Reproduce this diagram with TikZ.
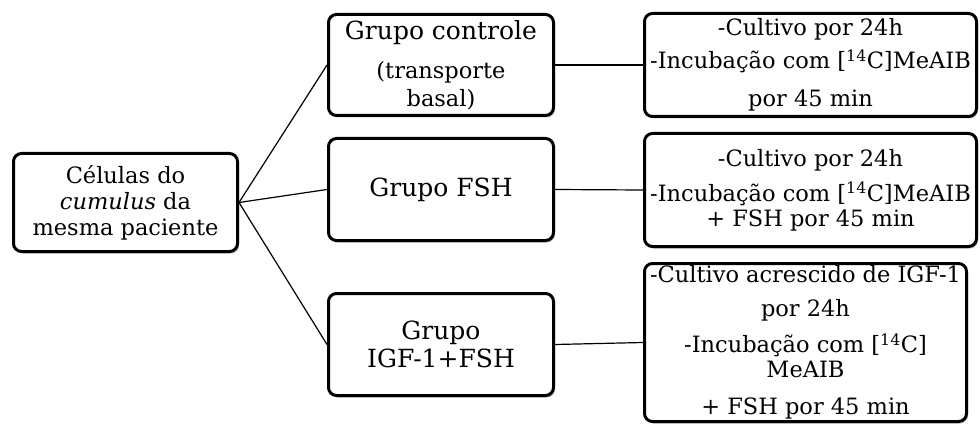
\documentclass[tikz,border=0pt]{standalone}
\usepackage{fontspec}
\setmainfont{DejaVu Serif}
\usepackage{tikz}
\usetikzlibrary{shadows}

\newcommand{\midfs}{\fontsize{25}{28}\selectfont}
\newcommand{\smlfs}{\fontsize{22.5}{25}\selectfont}

\begin{document}
\begin{tikzpicture}[x=1pt,y=-1pt,
    box/.style={rectangle, draw, line width=3pt, rounded corners=8pt, fill=white,
        align=center, inner sep=0pt,
        drop shadow={shadow xshift=1.5pt, shadow yshift=-2pt, fill=black, opacity=0.25}},
    link/.style={line width=1.2pt}]

    \useasboundingbox (0,0) rectangle (980,425);

    %\node[box] (cel) at (125.5,202.5) {Células do\\cumulus da\\mesma paciente};
    \node[box, minimum width=224pt, minimum height=98pt, font=\smlfs] (cel) at (125.5,202.5)
        {Células do\\[1pt]\textit{cumulus} da\\[1pt]mesma paciente};

    \node[box, minimum width=225pt, minimum height=101pt, font=\midfs] (ctrl) at (441,65)
        {Grupo controle\\[11pt]{\smlfs (transporte}\\{\smlfs basal)}};
    \node[box, minimum width=225pt, minimum height=102pt, font=\midfs] (fsh) at (441,189.5)
        {Grupo FSH};
    \node[box, minimum width=225pt, minimum height=102pt, font=\midfs] (igf) at (441,344.5)
        {Grupo\\IGF-1+FSH};

    \node[box, minimum width=332pt, minimum height=103pt, font=\smlfs] (res1) at (810.5,65)
        {-Cultivo por 24h\\[8pt]-Incubação com [\textsuperscript{14}C]MeAIB\\[13pt]por 45 min};
    \node[box, minimum width=332pt, minimum height=113pt, font=\smlfs] (res2) at (810.5,190)
        {-Cultivo por 24h\\[10pt]-Incubação com [\textsuperscript{14}C]MeAIB\\+ FSH por 45 min};
    \node[box, minimum width=322pt, minimum height=158pt, font=\smlfs] (res3) at (805.5,342.5)
        {-Cultivo acrescido de IGF-1\\[9pt]por 24h\\[11pt]-Incubação com [\textsuperscript{14}C]\\MeAIB\\[12pt]+ FSH por 45 min};

    \draw[link] (cel.east) -- (ctrl.west);
    \draw[link] (cel.east) -- (fsh.west);
    \draw[link] (cel.east) -- (igf.west);
    \draw[link] (ctrl.east) -- (res1.west);
    \draw[link] (fsh.east) -- (res2.west);
    \draw[link] (igf.east) -- (res3.west);
\end{tikzpicture}
\end{document}
